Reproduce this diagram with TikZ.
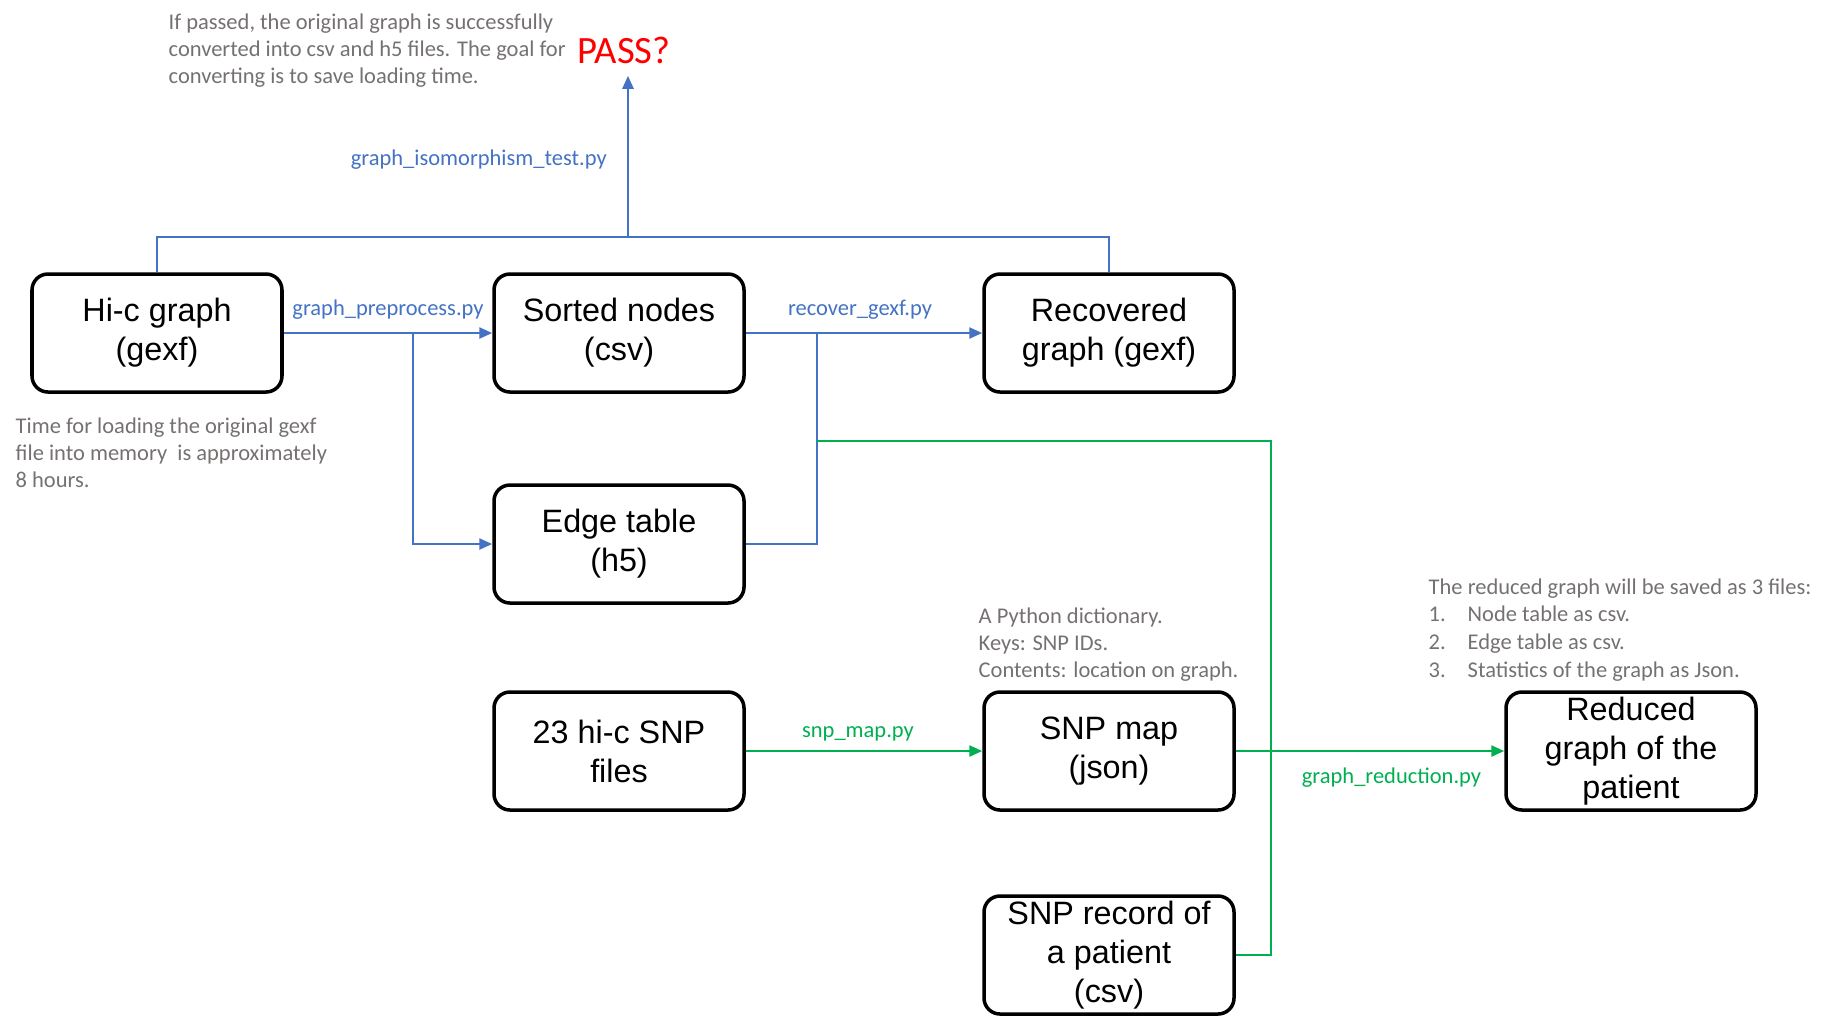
\documentclass[tikz,border=0pt]{standalone}
\usepackage{fontspec}
\setmainfont{Carlito}
\newfontfamily\boxfont{Liberation Sans}
\usetikzlibrary{arrows.meta}

\definecolor{pyblue}{RGB}{68,114,196}
\definecolor{pygreen}{RGB}{0,176,80}
\definecolor{notegray}{RGB}{118,113,113}

\tikzset{
  filebox/.style={draw, line width=1pt, rounded corners=0.16cm, minimum width=2.5cm,
    minimum height=1.18cm, inner sep=0pt, align=center,
    font=\boxfont\fontsize{9.2pt}{11.1pt}\selectfont},
  note/.style={anchor=north west, inner sep=0pt, align=left, text=notegray,
    font=\fontsize{6.4pt}{7.7pt}\selectfont},
  lbl/.style={font=\fontsize{6.4pt}{7.7pt}\selectfont, inner sep=0pt},
  bluewire/.style={draw=pyblue, line width=0.7pt},
  greenwire/.style={draw=pygreen, line width=0.7pt},
  tip/.style={arrows = -{Triangle[length=1.3mm,width=1.1mm]}}
}

\begin{document}
\begin{tikzpicture}
\useasboundingbox (0,0) rectangle (18.48,-10.35);

% the files
\node[filebox] (hic) at (1.57,-3.33) {Hi-c graph\\(gexf)};
\node[filebox] (sorted) at (6.19,-3.33) {Sorted nodes\\(csv)};
\node[filebox] (recovered) at (11.09,-3.33) {Recovered\\graph (gexf)};
\node[filebox] (edge) at (6.19,-5.44) {Edge table\\(h5)};
\node[filebox] (snpfiles) at (6.19,-7.51) {23 hi-c SNP\\files};
\node[filebox] (snpmap) at (11.09,-7.51) {SNP map\\(json)};
\node[filebox] (record) at (11.09,-9.55) {SNP record of\\a patient\\(csv)};
\node[filebox] (reduced) at (16.31,-7.51) {Reduced\\graph of the\\patient};

\node[text=red, font=\fontsize{11pt}{13pt}\selectfont] (pass) at (6.24,-0.50) {PASS?};

% comments in gray
\node[note] (passnote) at (1.68,-0.13) {If passed, the original graph is successfully\\converted into csv and h5 files. The goal for\\converting is to save loading time.};
\node[note] (hicnote) at (0.15,-4.17) {Time for loading the original gexf\\file into memory~ is approximately\\8 hours.};
\node[note] (mapnote) at (9.78,-6.07) {A Python dictionary.\\Keys: SNP IDs.\\Contents: location on graph.};
\node[note] (reducenote) at (14.28,-5.78) {The reduced graph will be saved as 3 files:};
\foreach \i/\txt in {1/Node table as csv.,2/Edge table as csv.,3/Statistics of the graph as Json.}{
  \node[note] (item\i) at (14.28,-5.78-0.276*\i) {\makebox[0.39cm][l]{\i.}\txt};
}

% blue part: conversion and test
\coordinate (testsplit) at (6.28,-2.37);
\coordinate (presplit) at (4.13,-3.33);
\coordinate (recsplit) at (8.17,-3.33);
\draw[bluewire, tip] (hic) -- node[lbl, above=1.2mm, text=pyblue] (prelbl) {graph\_preprocess.py} (sorted);
\draw[bluewire, tip] (presplit) |- (edge);
\draw[bluewire, tip] (sorted) -- node[lbl, above=1.2mm, xshift=-0.04cm, text=pyblue] (recoverlbl) {recover\_gexf.py} (recovered);
\draw[bluewire] (edge) -| (recsplit);
\draw[bluewire] (hic.north) |- (testsplit) -| (recovered.north);
\draw[bluewire, tip] (testsplit) -- node[lbl, left=2mm, yshift=-0.03cm, text=pyblue] (isolbl) {graph\_isomorphism\_test.py} (testsplit |- pass.south);

% green part: reduction
\coordinate (greenstart) at (8.17,-4.41);
\coordinate (greenbus) at (12.71,-9.55);
\draw[greenwire] (greenstart) -| (greenbus) -- (record);
\draw[greenwire, tip] (snpfiles) -- node[lbl, above=0.9mm, xshift=-0.06cm, text=pygreen] (snpmaplbl) {snp\_map.py} (snpmap);
\draw[greenwire, tip] (snpmap) -- node[lbl, below=1.6mm, pos=0.58, text=pygreen] (reductionlbl) {graph\_reduction.py} (reduced);
\end{tikzpicture}
\end{document}
